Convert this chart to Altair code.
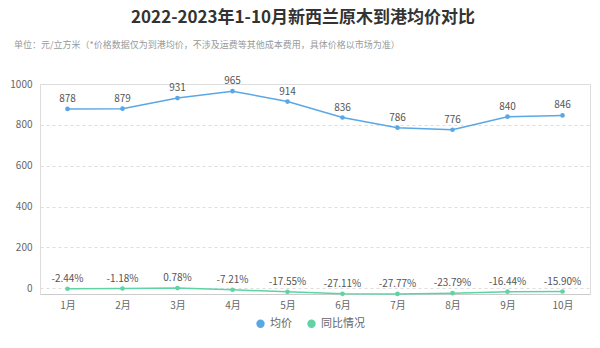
import altair as alt
import pandas as pd

months = ["1月", "2月", "3月", "4月", "5月", "6月", "7月", "8月", "9月", "10月"]
avg_price = [878, 879, 931, 965, 914, 836, 786, 776, 840, 846]
yoy = [-2.44, -1.18, 0.78, -7.21, -17.55, -27.11, -27.77, -23.79, -16.44, -15.90]
series_names = ["均价", "同比情况"]
colors = ["#5aa7e6", "#5fd3a4"]
y_ticks = [0, 200, 400, 600, 800, 1000]

rows = []
for m, v in zip(months, avg_price):
    rows.append({"月份": m, "系列": series_names[0], "值": v, "标签": f"{v}"})
for m, v in zip(months, yoy):
    rows.append({"月份": m, "系列": series_names[1], "值": v, "标签": f"{v:.2f}%"})
df = pd.DataFrame(rows)

FONT = "Noto Sans CJK SC"

x = alt.X("月份:N", sort=months, scale=alt.Scale(type="point", padding=0.5),
          axis=alt.Axis(title=None, labelAngle=0, ticks=False, domainColor="#cccccc",
                        labelColor="#666666", labelFontSize=10, labelPadding=6, grid=False,
                        labelFont=FONT))
y = alt.Y("值:Q", scale=alt.Scale(domain=[-28, 1000], nice=False, zero=False),
          axis=alt.Axis(title=None, values=y_ticks, format="d", domain=False, ticks=False,
                        gridDash=[3, 3], gridColor="#dddddd", labelColor="#666666",
                        labelFontSize=10, labelPadding=8, labelFont=FONT))
color = alt.Color("系列:N", scale=alt.Scale(domain=series_names, range=colors),
                  legend=alt.Legend(title=None, orient="none", direction="horizontal",
                                    legendX=215, legendY=234, symbolType="circle",
                                    symbolSize=70, symbolStrokeWidth=0, labelFontSize=11,
                                    labelColor="#666666", labelFont=FONT, columnPadding=14))

base = alt.Chart(df)
lines = base.mark_line(strokeWidth=1.5).encode(x=x, y=y, color=color)
points = base.mark_circle(size=22, opacity=1).encode(
    x=x, y=y,
    color=alt.Color("系列:N", scale=alt.Scale(domain=series_names, range=colors), legend=None))
labels = base.mark_text(dy=-10, fontSize=10, color="#555555", font=FONT).encode(
    x=x, y=y, text="标签:N")

title = alt.Chart(pd.DataFrame({"t": ["2022-2023年1-10月新西兰原木到港均价对比"]})).mark_text(
    align="center", baseline="middle", fontSize=17, fontWeight="bold", color="#333333", font=FONT
).encode(x=alt.value(263), y=alt.value(-66), text="t:N")

subtitle = alt.Chart(pd.DataFrame({"t": ["单位：元/立方米（*价格数据仅为到港均价，不涉及运费等其他成本费用，具体价格以市场为准）"]})).mark_text(
    align="left", baseline="middle", fontSize=9, color="#999999", font=FONT
).encode(x=alt.value(-26), y=alt.value(-39), text="t:N")

chart = alt.layer(lines, points, labels, title, subtitle).properties(
    width=550, height=210,
    padding={"left": 40, "top": 84, "right": 10, "bottom": 54},
    autosize=alt.AutoSizeParams(type="none"),
).configure_view(stroke=None).configure(background="white")

chart.save("out.html", embed_options={"renderer": "svg", "actions": False})
